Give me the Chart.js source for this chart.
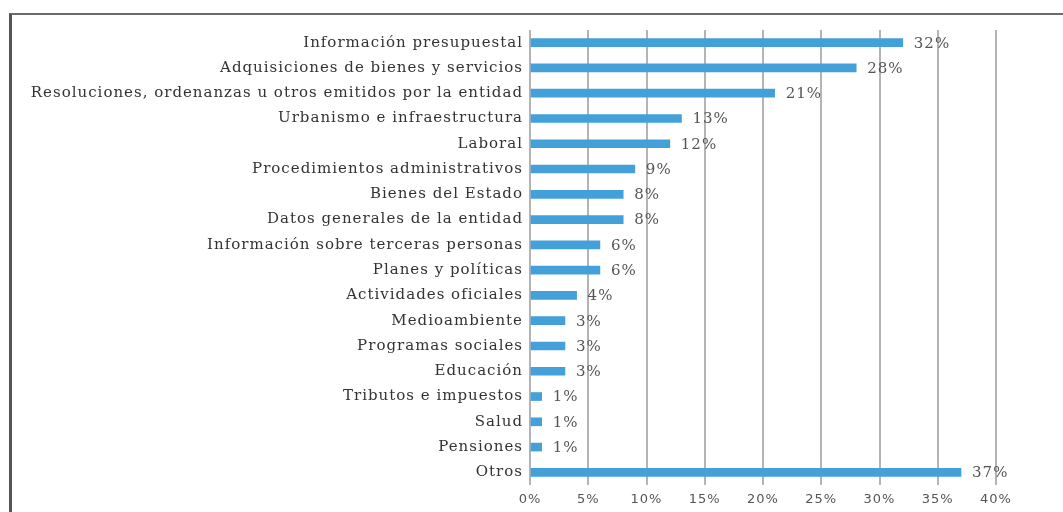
<!DOCTYPE html>
<html>
<head>
<meta charset="utf-8">
<script src="https://cdn.jsdelivr.net/npm/chart.js@4/dist/chart.umd.min.js"></script>
<style>
    html, body { margin: 0; padding: 0; background: #fff; }
    #frame {
        position: absolute;
        left: 9px;
        top: 13px;
        width: 1054px;
        height: 499px;
        border-top: 2px solid #6a6a6a;
        border-left: 3px solid #555;
        box-sizing: border-box;
    }
    #wrap { position: absolute; left: 0; top: 0; width: 1063px; height: 512px; }
</style>
</head>
<body>
<div id="frame"></div>
<div id="wrap"><canvas id="chart" width="1063" height="512"></canvas></div>
<script>
// Categories and values (percent)
const categories = [
    'Información presupuestal',
    'Adquisiciones de bienes y servicios',
    'Resoluciones, ordenanzas u otros emitidos por la entidad',
    'Urbanismo e infraestructura',
    'Laboral',
    'Procedimientos administrativos',
    'Bienes del Estado',
    'Datos generales de la entidad',
    'Información sobre terceras personas',
    'Planes y políticas',
    'Actividades oficiales',
    'Medioambiente',
    'Programas sociales',
    'Educación',
    'Tributos e impuestos',
    'Salud',
    'Pensiones',
    'Otros'
];
const values = [32, 28, 21, 13, 12, 9, 8, 8, 6, 6, 4, 3, 3, 3, 1, 1, 1, 37];
const xTicks = [0, 5, 10, 15, 20, 25, 30, 35, 40];

// Wider letter spacing like the scanned original
const spacing = {
    id: 'spacing',
    beforeDraw(chart) {
        chart.ctx.letterSpacing = '1px';
    }
};

// Draw the "NN%" label to the right of each bar
const barLabels = {
    id: 'barLabels',
    afterDatasetsDraw(chart) {
        const ctx = chart.ctx;
        const meta = chart.getDatasetMeta(0);
        ctx.save();
        ctx.letterSpacing = '1px';
        ctx.font = '15px "DejaVu Serif"';
        ctx.fillStyle = '#555';
        ctx.textAlign = 'left';
        ctx.textBaseline = 'middle';
        meta.data.forEach((bar, i) => {
            ctx.fillText(values[i] + '%', bar.x + 11, bar.y + 1);
        });
        ctx.restore();
    }
};

const ctx = document.getElementById('chart').getContext('2d');
new Chart(ctx, {
    type: 'bar',
    data: {
        labels: categories,
        datasets: [{
            data: values,
            backgroundColor: '#44a0d9',
            barThickness: 8
        }]
    },
    options: {
        indexAxis: 'y',
        responsive: false,
        animation: false,
        layout: {
            padding: { left: 0, right: 67, top: 30, bottom: 0 }
        },
        plugins: {
            legend: { display: false },
            tooltip: { enabled: false }
        },
        scales: {
            x: {
                min: 0,
                max: 40,
                afterBuildTicks(axis) {
                    axis.ticks = xTicks.map(v => ({ value: v }));
                },
                afterFit(axis) {
                    axis.height = 27;
                },
                grid: {
                    color: '#b4b4b4',
                    lineWidth: 2,
                    drawTicks: false
                },
                border: { display: false },
                ticks: {
                    padding: 7,
                    color: '#555',
                    font: { family: 'DejaVu Sans', size: 13 },
                    callback: v => v + '%'
                }
            },
            y: {
                afterFit(axis) {
                    axis.width = 530;
                },
                grid: { display: false, drawTicks: false },
                border: { display: false },
                ticks: {
                    padding: 7,
                    color: '#333',
                    font: { family: 'DejaVu Serif', size: 15 }
                }
            }
        }
    },
    plugins: [spacing, barLabels]
});
</script>
</body>
</html>
